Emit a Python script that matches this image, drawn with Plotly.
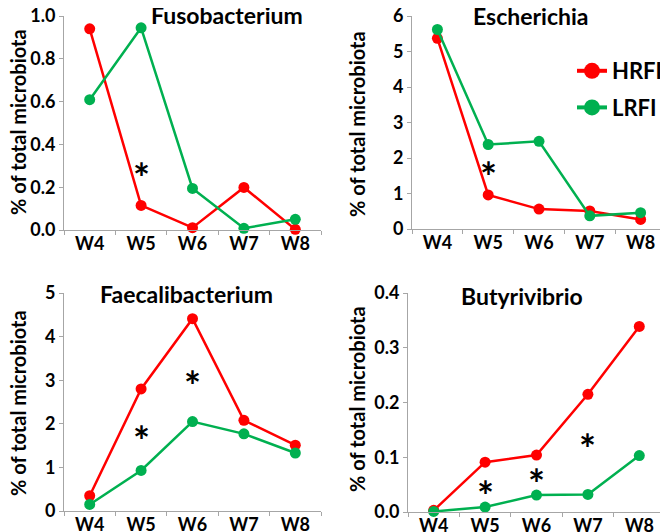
import plotly.graph_objects as go

WEEKS = ["W4", "W5", "W6", "W7", "W8"]
GENERA = ["Fusobacterium", "Escherichia", "Faecalibacterium", "Butyrivibrio"]

HRFI = {
    "Fusobacterium": [0.94, 0.115, 0.011, 0.199, 0.003],
    "Escherichia": [5.37, 0.96, 0.56, 0.51, 0.27],
    "Faecalibacterium": [0.35, 2.80, 4.41, 2.08, 1.51],
    "Butyrivibrio": [0.003, 0.091, 0.104, 0.215, 0.339],
}
LRFI = {
    "Fusobacterium": [0.609, 0.945, 0.194, 0.008, 0.05],
    "Escherichia": [5.62, 2.38, 2.47, 0.37, 0.46],
    "Faecalibacterium": [0.15, 0.93, 2.05, 1.77, 1.33],
    "Butyrivibrio": [0.001, 0.009, 0.031, 0.032, 0.103],
}
# significance marks: (week, y position)
STARS = {
    "Fusobacterium": [("W5", 0.28)],
    "Escherichia": [("W5", 1.7)],
    "Faecalibacterium": [("W5", 1.8), ("W6", 3.05)],
    "Butyrivibrio": [("W5", 0.044), ("W6", 0.065), ("W7", 0.129)],
}
Y_RANGE = {
    "Fusobacterium": (0, 1.0, 0.2, ".1f"),
    "Escherichia": (0, 6, 1, "d"),
    "Faecalibacterium": (0, 5, 1, "d"),
    "Butyrivibrio": (0, 0.4, 0.1, ".1f"),
}

W, H = 668, 532
PAGE_OFFSET = 8  # the page body margin shifts the plot by this much
FONT = "Lato"
RED = "#ff0000"
GREEN = "#00b050"
AXIS_GREY = "#a6a6a6"

# panel boxes in screen pixels: left, right, top, bottom
BOXES = {
    "Fusobacterium": (64, 321, 16, 230),
    "Escherichia": (412, 666, 16, 229),
    "Faecalibacterium": (64, 321, 293, 511),
    "Butyrivibrio": (408, 665, 293, 512),
}
TITLE_POS = {
    "Fusobacterium": (227, 15),
    "Escherichia": (531, 16),
    "Faecalibacterium": (187, 294),
    "Butyrivibrio": (522, 296),
}
YTITLE_POS = {
    "Fusobacterium": (18, 122),
    "Escherichia": (357, 124),
    "Faecalibacterium": (18, 403),
    "Butyrivibrio": (357, 399),
}


def px_x(x):
    return (x - PAGE_OFFSET) / W


def px_y(y):
    return 1 - (y - PAGE_OFFSET) / H


fig = go.Figure()
annotations = []

for i, genus in enumerate(GENERA, start=1):
    sfx = "" if i == 1 else str(i)
    left, right, top, bottom = BOXES[genus]
    y0, y1, dtick, fmt = Y_RANGE[genus]
    tick_font = dict(family=FONT, size=18, color="black", weight="bold")
    fig.layout[f"xaxis{sfx}"] = dict(
        domain=[px_x(left), px_x(right)],
        anchor=f"y{sfx}",
        type="category",
        range=[-0.5, 4.5],
        automargin=False, ticklabeloverflow="allow",
        showline=True, linecolor=AXIS_GREY, linewidth=1,
        ticks="outside", tickson="boundaries", ticklen=4, tickcolor=AXIS_GREY,
        ticklabelstandoff=-3,
        showgrid=False, zeroline=False,
        tickfont=tick_font,
    )
    fig.layout[f"yaxis{sfx}"] = dict(
        domain=[px_y(bottom), px_y(top)],
        anchor=f"x{sfx}",
        range=[y0, y1],
        dtick=dtick, tickformat=fmt,
        automargin=False, ticklabeloverflow="allow",
        showline=True, linecolor=AXIS_GREY, linewidth=1,
        ticks="outside", ticklen=4, tickcolor=AXIS_GREY,
        showgrid=False, zeroline=False,
        tickfont=tick_font,
    )

    for name, data, color in (("HRFI", HRFI, RED), ("LRFI", LRFI, GREEN)):
        fig.add_trace(go.Scatter(
            x=WEEKS, y=data[genus], name=name, mode="lines+markers",
            line=dict(color=color, width=2.5),
            marker=dict(color=color, size=11),
            xaxis=f"x{sfx}", yaxis=f"y{sfx}",
            showlegend=False, cliponaxis=False,
        ))

    for week, yv in STARS[genus]:
        annotations.append(dict(
            x=week, y=yv, xref=f"x{sfx}", yref=f"y{sfx}", text="*",
            showarrow=False, yanchor="middle", yshift=-8,
            font=dict(family=FONT, size=40, color="black", weight="bold"),
        ))

    tx, ty = TITLE_POS[genus]
    annotations.append(dict(
        x=px_x(tx), y=px_y(ty), xref="paper", yref="paper", text=genus,
        showarrow=False, xanchor="center", yanchor="middle",
        font=dict(family=FONT, size=23, color="black", weight="bold"),
    ))
    gx, gy = YTITLE_POS[genus]
    annotations.append(dict(
        x=px_x(gx), y=px_y(gy), xref="paper", yref="paper",
        text="% of total microbiota", textangle=-90,
        showarrow=False, xanchor="center", yanchor="middle",
        font=dict(family=FONT, size=20, color="black", weight="bold"),
    ))

# legend entries (bigger symbols than the plotted markers)
for name, color in (("HRFI", RED), ("LRFI", GREEN)):
    fig.add_trace(go.Scatter(
        x=[None], y=[None], name=name, mode="lines+markers",
        line=dict(color=color, width=4),
        marker=dict(color=color, size=16),
        xaxis="x2", yaxis="y2", showlegend=True, legendgroup=name,
    ))

fig.update_layout(
    width=W, height=H,
    margin=dict(l=0, r=0, t=0, b=0),
    paper_bgcolor="white", plot_bgcolor="white",
    annotations=annotations,
    legend=dict(
        x=px_x(572), y=px_y(50), xanchor="left", yanchor="top",
        bgcolor="rgba(0,0,0,0)", traceorder="grouped", tracegroupgap=5,
        font=dict(family=FONT, size=22, color="black", weight="bold"),
    ),
)

fig.write_html("out.html")
